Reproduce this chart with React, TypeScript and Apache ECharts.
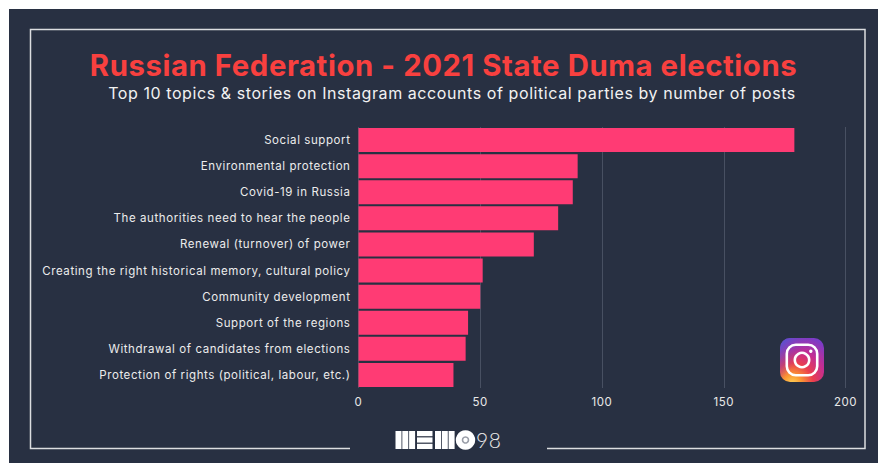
import React, { useEffect, useRef } from "react";
import * as echarts from "echarts";

const categories = [
  "Social support",
  "Environmental protection",
  "Covid-19 in Russia",
  "The authorities need to hear the people",
  "Renewal (turnover) of power",
  "Creating the right historical memory, cultural policy",
  "Community development",
  "Support of the regions",
  "Withdrawal of candidates from elections",
  "Protection of rights (political, labour, etc.)",
];
const posts = [179, 90, 88, 82, 72, 51, 50, 45, 44, 39];
const xTicks = { min: 0, max: 200, interval: 50 };
const titleText = "Russian Federation - 2021 State Duma elections";
const subtitleText = "Top 10 topics & stories on Instagram accounts of political parties by number of posts";

const FONT = "Inter, 'Noto Sans', sans-serif";
const BG = "#283042";
const WHITE = "#f2f2f2";

function bars(xs: [number, number][], y: number, h: number) {
  return xs.map(([x, w]) => ({ type: "rect", shape: { x, y, width: w, height: h }, style: { fill: "#ffffff" } }));
}

function logo() {
  const top = 431;
  const h = 18;
  return [
    ...bars([[395.5, 6], [402.3, 6], [409.1, 6]], top, h),
    ...[0, 6.4, 12.8].map((d) => ({ type: "rect", shape: { x: 417, y: top + d, width: 15.5, height: 5.2 }, style: { fill: "#ffffff" } })),
    ...bars([[435, 6], [441.8, 6], [448.6, 6]], top, h),
    { type: "circle", shape: { cx: 465.5, cy: 440, r: 9.7 }, style: { fill: "#ffffff" } },
    { type: "circle", shape: { cx: 465.5, cy: 440, r: 3 }, style: { fill: "#ffffff", stroke: "#9a9ea8", lineWidth: 1.6 } },
    { type: "text", x: 476, y: 449.5, style: { text: "98", fill: "#e8e8e8", font: `300 21px Lato, ${FONT}`, textVerticalAlign: "bottom", textBaseline: "bottom" } },
  ];
}

function instagram() {
  const x = 780, y = 338, s = 44;
  const cx = x + s / 2, cy = y + s / 2;
  return [
    {
      type: "rect",
      shape: { x, y, width: s, height: s, r: 10 },
      style: {
        fill: {
          type: "radial", x: 0.28, y: 1.05, r: 1.15,
          colorStops: [
            { offset: 0, color: "#fdd45a" },
            { offset: 0.18, color: "#fb9a33" },
            { offset: 0.42, color: "#ea3d4e" },
            { offset: 0.68, color: "#c42d92" },
            { offset: 1, color: "#7a3cc8" },
          ],
        },
      },
    },
    {
      type: "rect",
      shape: { x, y, width: s, height: s, r: 10 },
      style: {
        fill: {
          type: "linear", x: 0, y: 0, x2: 0.5, y2: 0.4,
          colorStops: [
            { offset: 0, color: "rgba(70,90,215,0.95)" },
            { offset: 1, color: "rgba(120,60,200,0)" },
          ],
        },
      },
    },
    { type: "rect", shape: { x: x + 6.8, y: y + 6.8, width: s - 13.6, height: s - 13.6, r: 9 }, style: { fill: "none", stroke: "#ffffff", lineWidth: 2.6 } },
    { type: "circle", shape: { cx, cy, r: 7.2 }, style: { fill: "none", stroke: "#ffffff", lineWidth: 2.6 } },
    { type: "circle", shape: { cx: cx + 8.8, cy: cy - 8.8, r: 1.7 }, style: { fill: "#ffffff" } },
  ];
}

export default function App() {
  const ref = useRef<HTMLDivElement>(null);
  useEffect(() => {
    const chart = echarts.init(ref.current!, undefined, { renderer: "svg" });
    const frame = "#dcdde0";
    chart.setOption({
      animation: false,
      backgroundColor: "#ffffff",
      title: [
        {
          text: titleText,
          left: 438.5, top: 46, textAlign: "center",
          textStyle: { color: "#f8403f", fontFamily: "Inter, sans-serif", fontWeight: 700, fontSize: 29.3 },
        },
        {
          text: subtitleText,
          left: 447, top: 80, textAlign: "center",
          textStyle: { color: WHITE, fontFamily: FONT, fontWeight: 400, fontSize: 16 },
        },
      ],
      grid: { left: 358.5, right: 32.5, top: 127, height: 261, containLabel: false },
      xAxis: {
        type: "value",
        min: xTicks.min, max: xTicks.max, interval: xTicks.interval,
        axisLine: { show: false }, axisTick: { show: false },
        splitLine: { lineStyle: { color: "#485062", width: 1 } },
        axisLabel: { color: "#e8e8e8", fontFamily: FONT, fontSize: 11.5, margin: 8 },
      },
      yAxis: {
        type: "category",
        inverse: true,
        data: categories,
        axisLine: { show: false }, axisTick: { show: false },
        axisLabel: { color: "#ececec", fontFamily: FONT, fontSize: 11.5, margin: 8 },
      },
      series: [
        {
          type: "bar",
          data: posts,
          barCategoryGap: "8%",
          itemStyle: { color: "#ff3b74" },
          silent: true,
        },
      ],
      graphic: {
        elements: [
          { type: "rect", z: -10, silent: true, shape: { x: 9, y: 9, width: 869, height: 454 }, style: { fill: BG } },
          {
            type: "polyline", z: -5, silent: true,
            shape: { points: [[350, 448.5], [30.5, 448.5], [30.5, 29.5], [865, 29.5], [865, 448.5], [547, 448.5]] },
            style: { fill: "none", stroke: frame, lineWidth: 1.5 },
          },
          ...logo().map((e) => ({ ...e, silent: true, z: 5 })),
          ...instagram().map((e) => ({ ...e, silent: true, z: 5 })),
        ],
      },
    });
    return () => chart.dispose();
  }, []);
  return <div ref={ref} style={{ position: "fixed", left: 0, top: 0, width: 878, height: 463, letterSpacing: "0.58px" }} />;
}
